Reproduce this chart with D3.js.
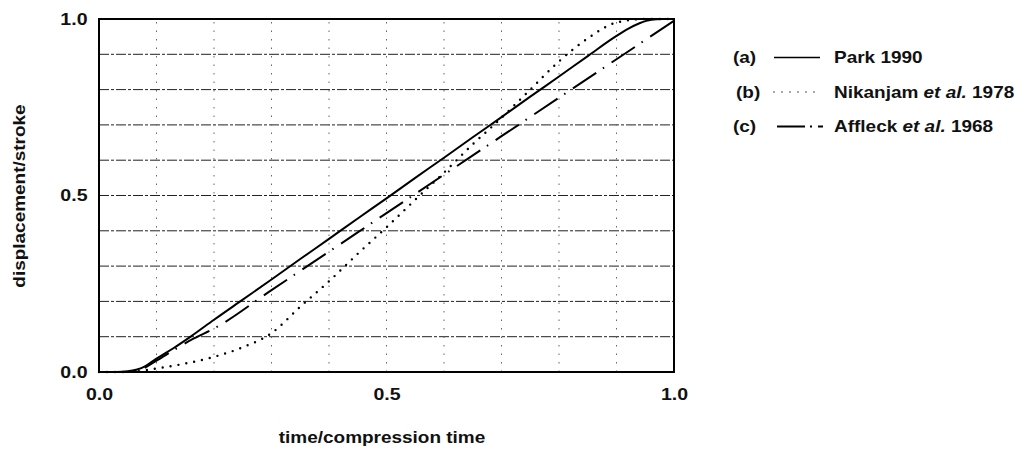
<!DOCTYPE html>
<html>
<head>
<meta charset="utf-8">
<script src="https://cdn.jsdelivr.net/npm/d3@7"></script>
<style>
  body { margin: 0; background: #fff; }
  text { font-family: "Liberation Sans", Arial, sans-serif; fill: #111; font-weight: bold; }
</style>
</head>
<body>
<div id="chart"></div>
<script>
// data (t = time/compression time, d = displacement/stroke)
const parkT = [0, 0.03, 0.05, 0.08, 0.1, 0.13, 0.16, 0.2, 0.25, 0.3, 0.35, 0.4, 0.45, 0.5, 0.55, 0.6, 0.65, 0.7, 0.75, 0.8, 0.85, 0.9, 0.92, 0.94, 0.96, 0.98, 1.0];
const parkD = [0, 0, 0.002, 0.016, 0.038, 0.068, 0.101, 0.148, 0.205, 0.262, 0.32, 0.377, 0.435, 0.492, 0.55, 0.607, 0.665, 0.722, 0.78, 0.837, 0.895, 0.952, 0.972, 0.988, 0.998, 1.0, 1.0];

const nikT = [0, 0.05, 0.1, 0.15, 0.2, 0.25, 0.3, 0.35, 0.4, 0.45, 0.5, 0.55, 0.6, 0.65, 0.7, 0.75, 0.8, 0.85, 0.9, 0.95, 1.0];
const nikD = [0, 0, 0.01, 0.024, 0.043, 0.07, 0.11, 0.185, 0.257, 0.335, 0.41, 0.488, 0.565, 0.645, 0.72, 0.8, 0.88, 0.945, 0.99, 1.0, 1.0];

const affT = [0, 0.05, 0.07, 0.1, 0.13, 0.165, 0.2, 0.3, 0.4, 0.5, 0.6, 0.7, 0.8, 0.9, 1.0];
const affD = [0, 0, 0.005, 0.032, 0.062, 0.095, 0.123, 0.232, 0.341, 0.45, 0.559, 0.668, 0.777, 0.886, 0.995];

const tickValues = [0, 0.5, 1.0];
const gridValues = d3.range(0, 1.0001, 0.1);

const legendItems = [
  { tag: '(a)', pre: 'Park  1990', it: '', post: '', style: 'solid' },
  { tag: '(b)', pre: 'Nikanjam ', it: 'et al.', post: ' 1978', style: 'dot' },
  { tag: '(c)', pre: 'Affleck ', it: 'et al.', post: ' 1968', style: 'dashdot' }
];

const width = 1033, height = 452;
const margin = { top: 19, right: 359, bottom: 80, left: 99 };
const sx = 1.15; // the scanned lettering is a bit wider than Arial

const svg = d3.select('#chart').append('svg')
  .attr('width', width)
  .attr('height', height);

const x = d3.scaleLinear().domain([0, 1]).range([margin.left, width - margin.right]);
const y = d3.scaleLinear().domain([0, 1]).range([height - margin.bottom, margin.top]);

// grid
svg.append('g').selectAll('line')
  .data(gridValues.slice(1, -1))
  .enter().append('line')
  .attr('x1', x(0)).attr('x2', x(1))
  .attr('y1', d => y(d)).attr('y2', d => y(d))
  .attr('stroke', '#222')
  .attr('stroke-width', 1)
  .attr('stroke-dasharray', '10,2,3,2');

svg.append('g').selectAll('line')
  .data(gridValues.slice(1, -1))
  .enter().append('line')
  .attr('y1', y(0)).attr('y2', y(1))
  .attr('x1', d => x(d)).attr('x2', d => x(d))
  .attr('stroke', '#666')
  .attr('stroke-width', 1)
  .attr('stroke-dasharray', '1.5,7');

// axes (no tick marks, just labels)
const xAxis = svg.append('g')
  .attr('transform', `translate(0, ${y(0)})`)
  .call(d3.axisBottom(x).tickValues(tickValues).tickSize(0).tickPadding(16).tickFormat(d3.format('.1f')));
const yAxis = svg.append('g')
  .attr('transform', `translate(${x(0)}, 0)`)
  .call(d3.axisLeft(y).tickValues(tickValues).tickSize(0).tickPadding(10).tickFormat(d3.format('.1f')));
[xAxis, yAxis].forEach(a => {
  a.select('.domain').remove();
  a.selectAll('text')
    .style('font-family', '"Liberation Sans", Arial, sans-serif')
    .style('font-size', '17px')
    .style('font-weight', 'bold')
    .attr('transform', `scale(${sx},1)`)
    .attr('fill', '#111');
});

// frame
svg.append('rect')
  .attr('x', x(0)).attr('y', y(1))
  .attr('width', x(1) - x(0)).attr('height', y(0) - y(1))
  .attr('fill', 'none')
  .attr('stroke', '#000')
  .attr('stroke-width', 2);

// curves
const line = d3.line()
  .x(d => x(d[0]))
  .y(d => y(d[1]))
  .curve(d3.curveMonotoneX);

const styles = {
  solid: { dash: null, width: 2, cap: 'butt' },
  dot: { dash: '0,8', width: 2.4, cap: 'round' },
  dashdot: { dash: '28,8,1.5,9', width: 2, cap: 'butt' }
};

const series = [
  { t: parkT, d: parkD, style: 'solid' },
  { t: nikT, d: nikD, style: 'dot' },
  { t: affT, d: affD, style: 'dashdot' }
];

series.forEach(s => {
  const st = styles[s.style];
  svg.append('path')
    .datum(d3.zip(s.t, s.d))
    .attr('d', line)
    .attr('fill', 'none')
    .attr('stroke', '#000')
    .attr('stroke-width', st.width)
    .attr('stroke-linecap', st.cap)
    .attr('stroke-dasharray', st.dash);
});

// axis titles
svg.append('text')
  .attr('transform', `translate(382, 443) scale(${sx},1)`)
  .attr('text-anchor', 'middle')
  .style('font-size', '16.5px')
  .text('time/compression time');

svg.append('text')
  .attr('transform', `translate(25, 196) rotate(-90) scale(${sx},1)`)
  .attr('text-anchor', 'middle')
  .style('font-size', '16.5px')
  .text('displacement/stroke');

// legend
const legend = svg.append('g');
legendItems.forEach((item, i) => {
  const by = 63 + i * 34.5;
  legend.append('text')
    .attr('transform', `translate(${i === 1 ? 736 : 733}, ${by}) scale(${sx},1)`)
    .style('font-size', '16.5px')
    .text(item.tag);
  const ly = by - 5.5;
  if (item.style === 'dashdot') {
    legend.append('line')
      .attr('x1', 777).attr('x2', 823)
      .attr('y1', ly).attr('y2', ly)
      .attr('stroke', '#000').attr('stroke-width', 2)
      .attr('stroke-dasharray', '28,5,2,6,5,40');
  } else {
    const st = styles[item.style];
    legend.append('line')
      .attr('x1', 774).attr('x2', 820)
      .attr('y1', ly).attr('y2', ly)
      .attr('stroke', '#000')
      .attr('stroke-width', item.style === 'dot' ? 1.3 : 1.6)
      .attr('stroke-linecap', st.cap)
      .attr('stroke-dasharray', item.style === 'dot' ? '0,8' : null);
  }
  const t = legend.append('text')
    .attr('transform', `translate(834, ${by}) scale(${sx},1)`)
    .style('font-size', '16.5px');
  t.append('tspan').text(item.pre);
  if (item.it) {
    t.append('tspan').style('font-style', 'italic').text(item.it);
    t.append('tspan').text(item.post);
  }
});
</script>
</body>
</html>
